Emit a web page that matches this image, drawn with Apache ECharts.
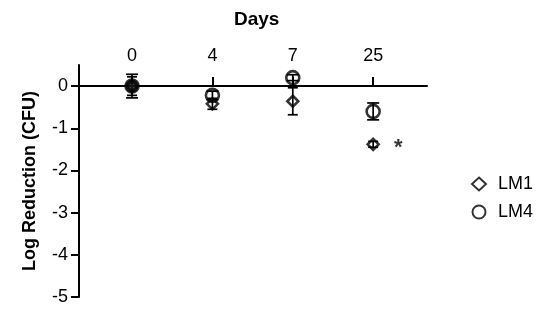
<!DOCTYPE html>
<html>
<head>
<meta charset="utf-8">
<script src="https://cdn.jsdelivr.net/npm/echarts@6/dist/echarts.min.js"></script>
<style>html,body{margin:0;padding:0;background:#fff}#c{width:550px;height:312px}</style>
</head>
<body>
<div id="c"></div>
<script>
var days = ['0', '4', '7', '25'];
var lm1Mean = [0, -0.42, -0.36, -1.38];
var lm1Err = [0.22, 0.13, 0.32, 0.07];
var lm4Mean = [0, -0.22, 0.2, -0.6];
var lm4Err = [0.28, 0.1, 0.07, 0.2];
var yTicks = [-5, -4, -3, -2, -1, 0];
var sigMark = ['', '', '', '*'];

var chart = echarts.init(document.getElementById('c'));
var FONT = 'Liberation Sans, Arial, sans-serif';

function pts(mean, marks, overlapIdx) {
  return mean.map(function (v, i) {
    var item = { value: [i, v] };
    if (marks && marks[i]) {
      item.label = { show: true, position: 'right', distance: 14, offset: [0, 4], formatter: marks[i],
        fontSize: 22, fontWeight: 'bold', color: '#000', fontFamily: FONT };
    }
    if (overlapIdx === i) {
      item.itemStyle = { color: '#1a1a1a' };
    }
    return item;
  });
}
function errData(mean, err) {
  return mean.map(function (v, i) { return [i, v - err[i], v + err[i]]; });
}
function errRender(capHalf) {
  return function (params, api) {
    var x = api.value(0);
    var lo = api.coord([x, api.value(1)]);
    var hi = api.coord([x, api.value(2)]);
    var st = { stroke: '#000', lineWidth: 1.7 };
    return { type: 'group', children: [
      { type: 'line', shape: { x1: lo[0], y1: lo[1], x2: hi[0], y2: hi[1] }, style: st },
      { type: 'line', shape: { x1: lo[0] - capHalf, y1: lo[1], x2: lo[0] + capHalf, y2: lo[1] }, style: st },
      { type: 'line', shape: { x1: hi[0] - capHalf, y1: hi[1], x2: hi[0] + capHalf, y2: hi[1] }, style: st }
    ]};
  };
}

chart.setOption({
  animation: false,
  backgroundColor: '#fff',
  title: { text: 'Days', left: 229, top: 5,
    textStyle: { fontSize: 19, fontWeight: 'bold', color: '#000', fontFamily: FONT } },
  legend: {
    orient: 'vertical', left: 466, top: 170, itemGap: 10, itemWidth: 14, itemHeight: 13,
    data: ['LM1', 'LM4'],
    textStyle: { fontSize: 18, color: '#000', fontFamily: FONT, padding: [0, 0, 0, 7] }
  },
  grid: { left: 79, right: 123, top: 65, bottom: 15, containLabel: false },
  xAxis: {
    type: 'value', position: 'top', min: -0.66, max: 3.67,
    axisLine: { onZero: true, lineStyle: { color: '#000', width: 2 } },
    axisTick: { show: true, length: 9, lineStyle: { color: '#000', width: 2 }, customValues: [0, 1, 2, 3] },
    axisLabel: { customValues: [0, 1, 2, 3], margin: 0, fontSize: 18, color: '#000', fontFamily: FONT,
      formatter: function (v) { return days[Math.round(v)]; } },
    splitLine: { show: false }
  },
  yAxis: {
    type: 'value', min: -5, max: 0.5,
    name: 'Log Reduction (CFU)', nameLocation: 'middle', nameRotate: 90, nameGap: 40,
    nameTextStyle: { fontSize: 18, fontWeight: 'bold', color: '#000', fontFamily: FONT },
    axisLine: { show: true, onZero: false, lineStyle: { color: '#000', width: 2 } },
    axisTick: { show: true, length: 8, lineStyle: { color: '#000', width: 2 }, customValues: yTicks },
    axisLabel: { customValues: yTicks, margin: 11, fontSize: 18, color: '#000', fontFamily: FONT },
    splitLine: { show: false }
  },
  series: [
    { name: 'LM1err', type: 'custom', renderItem: errRender(5), data: errData(lm1Mean, lm1Err), z: 1, silent: true },
    { name: 'LM4err', type: 'custom', renderItem: errRender(6), data: errData(lm4Mean, lm4Err), z: 1, silent: true },
    { name: 'LM4', type: 'scatter', symbol: 'circle', symbolSize: 13, data: pts(lm4Mean, null, 0), z: 3,
      itemStyle: { color: 'rgba(255,255,255,0)', borderColor: '#000', borderWidth: 2.6 } },
    { name: 'LM1', type: 'scatter', symbol: 'diamond', symbolSize: 11, data: pts(lm1Mean, sigMark), z: 4,
      itemStyle: { color: 'rgba(255,255,255,0)', borderColor: '#000', borderWidth: 2.6 } }
  ]
});
</script>
</body>
</html>
